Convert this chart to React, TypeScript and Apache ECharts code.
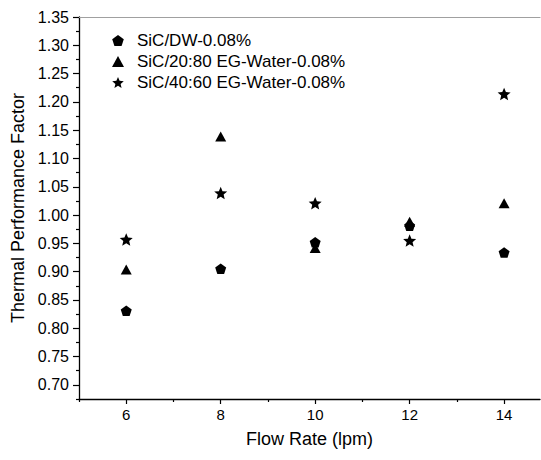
import React, { useEffect, useRef } from "react";
import * as echarts from "echarts";

const flowRates = [6, 8, 10, 12, 14];
const dwValues = [0.831, 0.905, 0.952, 0.981, 0.934];
const eg2080Values = [0.904, 1.139, 0.942, 0.988, 1.021];
const eg4060Values = [0.957, 1.039, 1.021, 0.955, 1.214];

const seriesNames = [
  "SiC/DW-0.08%",
  "SiC/20:80 EG-Water-0.08%",
  "SiC/40:60 EG-Water-0.08%",
];

const xMajorTicks = [6, 8, 10, 12, 14];
const xMinorTicks = [5, 7, 9, 11, 13];
const yMajorTicks = [0.7, 0.75, 0.8, 0.85, 0.9, 0.95, 1.0, 1.05, 1.1, 1.15, 1.2, 1.25, 1.3, 1.35];
const yMinorTicks = [0.675, 0.725, 0.775, 0.825, 0.875, 0.925, 0.975, 1.025, 1.075, 1.125, 1.175, 1.225, 1.275, 1.325];

const X_MIN = 5;
const X_MAX = 14.76;
const Y_MIN = 0.675;
const Y_MAX = 1.35;

const PENTAGON = "path://M0,-1L0.951,-0.309L0.588,0.809L-0.588,0.809L-0.951,-0.309Z";
const STAR =
  "path://M0,-1L0.2645,-0.364L0.951,-0.309L0.428,0.139L0.588,0.809L0,0.45L-0.588,0.809L-0.428,0.139L-0.951,-0.309L-0.2645,-0.364Z";

const FONT = "'Liberation Sans', Arial, sans-serif";

export default function App() {
  const ref = useRef<HTMLDivElement>(null);

  useEffect(() => {
    if (!ref.current) return;
    const chart = echarts.init(ref.current, undefined, { renderer: "svg" });

    const toPairs = (vals: number[]) => flowRates.map((x, i) => [x, vals[i]]);
    const markerStyle = { color: "#000", opacity: 1 };

    chart.setOption({
      animation: false,
      backgroundColor: "#ffffff",
      textStyle: { fontFamily: FONT },
      grid: { left: 79, right: 1, top: 17, bottom: 61, containLabel: false },
      legend: {
        orient: "vertical",
        left: 107,
        top: 27,
        itemGap: 4,
        itemWidth: 12,
        itemHeight: 11,
        data: seriesNames,
        textStyle: { fontSize: 17, color: "#000", fontFamily: FONT, padding: [0, 0, 0, 8] },
      },
      xAxis: [
        {
          type: "value",
          min: X_MIN,
          max: X_MAX,
          position: "bottom",
          name: "Flow Rate (lpm)",
          nameLocation: "middle",
          nameGap: 31,
          nameTextStyle: { fontSize: 18, color: "#000", fontFamily: FONT },
          axisLine: { show: true, onZero: false, lineStyle: { color: "#000", width: 1.3 } },
          axisTick: { show: true, inside: false, length: 5, customValues: xMajorTicks, lineStyle: { color: "#000", width: 1.2 } },
          axisLabel: { show: true, customValues: xMajorTicks, margin: 8, fontSize: 15, color: "#000", fontFamily: FONT },
          splitLine: { show: false },
        },
        {
          type: "value",
          min: X_MIN,
          max: X_MAX,
          position: "bottom",
          axisLine: { show: false, onZero: false },
          axisTick: { show: true, inside: false, length: 3, customValues: xMinorTicks, lineStyle: { color: "#000", width: 1.2 } },
          axisLabel: { show: false },
          splitLine: { show: false },
        },
        {
          type: "value",
          min: X_MIN,
          max: X_MAX,
          position: "top",
          axisLine: { show: true, onZero: false, lineStyle: { color: "#a0a0a0", width: 1.2 } },
          axisTick: { show: false },
          axisLabel: { show: false },
          splitLine: { show: false },
        },
      ],
      yAxis: [
        {
          type: "value",
          min: Y_MIN,
          max: Y_MAX,
          position: "left",
          name: "Thermal Performance Factor",
          nameLocation: "middle",
          nameGap: 51,
          nameTextStyle: { fontSize: 18, color: "#000", fontFamily: FONT },
          axisLine: { show: true, onZero: false, lineStyle: { color: "#000", width: 1.3 } },
          axisTick: { show: true, inside: false, length: 6, customValues: yMajorTicks, lineStyle: { color: "#000", width: 1.2 } },
          axisLabel: {
            show: true,
            customValues: yMajorTicks,
            margin: 10,
            fontSize: 16,
            color: "#000",
            fontFamily: FONT,
            formatter: (v: number) => v.toFixed(2),
          },
          splitLine: { show: false },
        },
        {
          type: "value",
          min: Y_MIN,
          max: Y_MAX,
          position: "left",
          axisLine: { show: false, onZero: false },
          axisTick: { show: true, inside: false, length: 3, customValues: yMinorTicks, lineStyle: { color: "#000", width: 1.2 } },
          axisLabel: { show: false },
          splitLine: { show: false },
        },
      ],
      series: [
        {
          name: seriesNames[0],
          type: "scatter",
          xAxisIndex: 0,
          yAxisIndex: 0,
          symbol: PENTAGON,
          symbolSize: [11, 10.5],
          itemStyle: markerStyle,
          data: toPairs(dwValues),
        },
        {
          name: seriesNames[1],
          type: "scatter",
          xAxisIndex: 0,
          yAxisIndex: 0,
          symbol: "triangle",
          symbolSize: [11, 10],
          itemStyle: markerStyle,
          data: toPairs(eg2080Values),
        },
        {
          name: seriesNames[2],
          type: "scatter",
          xAxisIndex: 0,
          yAxisIndex: 0,
          symbol: STAR,
          symbolSize: [13, 12.5],
          itemStyle: markerStyle,
          data: toPairs(eg4060Values),
        },
      ],
    });

    return () => chart.dispose();
  }, []);

  return (
    <div
      ref={ref}
      style={{ position: "absolute", left: 0, top: 0, width: 541, height: 460, background: "#fff" }}
    />
  );
}
